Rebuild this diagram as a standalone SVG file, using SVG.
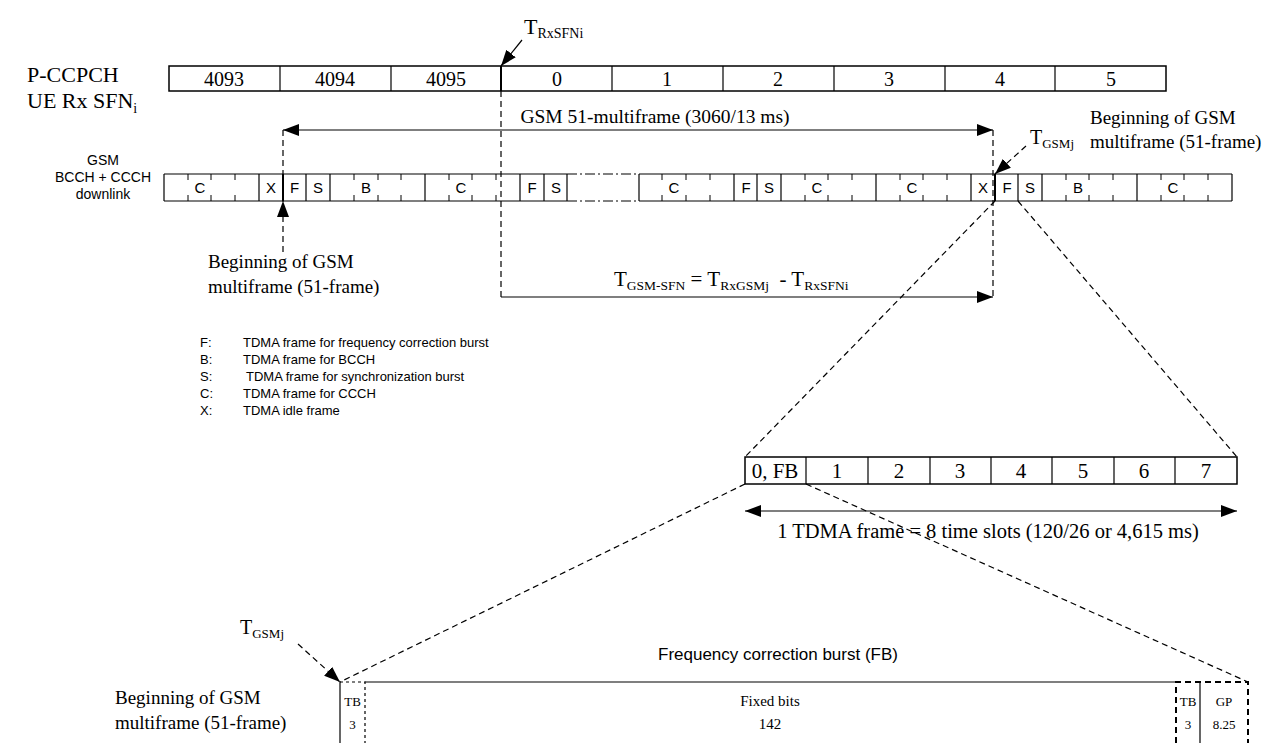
<svg xmlns="http://www.w3.org/2000/svg" width="1286" height="743" viewBox="0 0 1286 743">
<style>
.ln{stroke:#000;stroke-width:1.2;fill:none}
.bx{stroke:#000;stroke-width:1.5;fill:#fff}
.dl{stroke:#000;stroke-width:1.2;fill:none;stroke-dasharray:6 4}
.dd{stroke:#000;stroke-width:1.2;fill:none;stroke-dasharray:10 3 2 3}
.tk{stroke:#000;stroke-width:1}
.tm{font-family:"Liberation Serif",serif;fill:#000}
.ar{font-family:"Liberation Sans",sans-serif;fill:#000}
</style>
<defs>
<marker id="ah" viewBox="0 0 16 12" refX="16" refY="6" markerWidth="16" markerHeight="12" markerUnits="userSpaceOnUse" orient="auto-start-reverse">
<path d="M0,0 L16,6 L0,12 Z" fill="#000"/>
</marker>
</defs>

<g id="pccpch">
<text class="tm" x="27" y="82" font-size="22">P-CCPCH</text>
<text class="tm" x="27" y="108" font-size="22">UE Rx SFN<tspan font-size="14" dy="5">i</tspan></text>
<rect class="bx" x="169" y="66" width="997" height="25"/>
<g class="ln">
<line x1="280" y1="66" x2="280" y2="91"/><line x1="391" y1="66" x2="391" y2="91"/>
<line x1="501" y1="66" x2="501" y2="91" stroke-width="2"/><line x1="612" y1="66" x2="612" y2="91"/>
<line x1="723" y1="66" x2="723" y2="91"/><line x1="834" y1="66" x2="834" y2="91"/>
<line x1="945" y1="66" x2="945" y2="91"/><line x1="1055" y1="66" x2="1055" y2="91"/>
</g>
<g class="tm" font-size="20" text-anchor="middle">
<text x="224" y="86">4093</text><text x="335" y="86">4094</text><text x="446" y="86">4095</text>
<text x="557" y="86">0</text><text x="667" y="86">1</text><text x="778" y="86">2</text>
<text x="889" y="86">3</text><text x="1000" y="86">4</text><text x="1111" y="86">5</text>
</g>
</g>

<g id="t-rxsfni">
<text class="tm" x="524" y="34" font-size="22">T<tspan font-size="14" dy="4">RxSFNi</tspan></text>
</g>

<g id="gsm-row">
<g class="ar" font-size="14" text-anchor="middle">
<text x="103" y="165">GSM</text><text x="103" y="182">BCCH + CCCH</text><text x="103" y="199">downlink</text>
</g>
<rect x="164" y="174" width="1068" height="27" fill="#fff"/>
<g class="ln" stroke-width="1.5">
<line x1="164" y1="174" x2="567" y2="174"/><line x1="164" y1="201" x2="567" y2="201"/>
<line x1="639" y1="174" x2="1232" y2="174"/><line x1="639" y1="201" x2="1232" y2="201"/>
<line x1="164" y1="174" x2="164" y2="201"/><line x1="1232" y1="174" x2="1232" y2="201"/>
</g>
<line class="dd" x1="567" y1="174" x2="639" y2="174"/><line class="dd" x1="567" y1="201" x2="639" y2="201"/>
<g class="ln">
<line x1="259" y1="174" x2="259" y2="201"/><line x1="306" y1="174" x2="306" y2="201"/>
<line x1="330" y1="174" x2="330" y2="201"/><line x1="425" y1="174" x2="425" y2="201"/>
<line x1="520" y1="174" x2="520" y2="201"/><line x1="544" y1="174" x2="544" y2="201"/>
<line x1="567" y1="174" x2="567" y2="201"/><line x1="639" y1="174" x2="639" y2="201"/>
<line x1="734" y1="174" x2="734" y2="201"/><line x1="757" y1="174" x2="757" y2="201"/>
<line x1="781" y1="174" x2="781" y2="201"/><line x1="876" y1="174" x2="876" y2="201"/>
<line x1="971" y1="174" x2="971" y2="201"/><line x1="1018" y1="174" x2="1018" y2="201"/>
<line x1="1042" y1="174" x2="1042" y2="201"/><line x1="1137" y1="174" x2="1137" y2="201"/>
<line x1="283" y1="174" x2="283" y2="201" stroke-width="2"/><line x1="995" y1="174" x2="995" y2="201" stroke-width="2"/>
</g>
<path class="tk" d="M188,174v6M188,201v-6M211,174v6M211,201v-6M235,174v6M235,201v-6
M354,174v6M354,201v-6M378,174v6M378,201v-6M401,174v6M401,201v-6
M449,174v6M449,201v-6M472,174v6M472,201v-6M496,174v6M496,201v-6
M662,174v6M662,201v-6M686,174v6M686,201v-6M710,174v6M710,201v-6
M805,174v6M805,201v-6M828,174v6M828,201v-6M852,174v6M852,201v-6
M900,174v6M900,201v-6M923,174v6M923,201v-6M947,174v6M947,201v-6
M1066,174v6M1066,201v-6M1089,174v6M1089,201v-6M1113,174v6M1113,201v-6
M1161,174v6M1161,201v-6M1184,174v6M1184,201v-6M1208,174v6M1208,201v-6"/>
<g class="ar" font-size="15" text-anchor="middle">
<text x="200" y="193">C</text><text x="271" y="193">X</text><text x="294.5" y="193">F</text><text x="318" y="193">S</text>
<text x="366" y="193">B</text><text x="461" y="193">C</text><text x="532" y="193">F</text><text x="556" y="193">S</text>
<text x="674" y="193">C</text><text x="746" y="193">F</text><text x="769" y="193">S</text><text x="817" y="193">C</text>
<text x="912" y="193">C</text><text x="983" y="193">X</text><text x="1007" y="193">F</text><text x="1030" y="193">S</text>
<text x="1078" y="193">B</text><text x="1173" y="193">C</text>
</g>
</g>

<g id="multiframe-label">
<text class="tm" x="655" y="123" font-size="19.5" text-anchor="middle">GSM 51-multiframe (3060/13 ms)</text>
</g>

<g id="begin-top">
<text class="tm" x="1090" y="124" font-size="19">Beginning of GSM</text>
<text class="tm" x="1090" y="148" font-size="19">multiframe (51-frame)</text>
</g>

<g id="t-gsmj-top">
<text class="tm" x="1030" y="144" font-size="20">T<tspan font-size="13" dy="4">GSMj</tspan></text>
</g>

<g id="begin-mid">
<text class="tm" x="208" y="268" font-size="19">Beginning of GSM</text>
<text class="tm" x="208" y="293" font-size="19">multiframe (51-frame)</text>
</g>

<g id="formula">
<text class="tm" x="614" y="286" font-size="21" xml:space="preserve">T<tspan font-size="13.5" dy="4">GSM-SFN</tspan><tspan dy="-4"> = T</tspan><tspan font-size="13.5" dy="4">RxGSMj</tspan><tspan dy="-4">  - T</tspan><tspan font-size="13.5" dy="4">RxSFNi</tspan></text>
</g>

<g id="legend" class="ar" font-size="13">
<text x="200" y="347">F:</text><text x="243" y="347">TDMA frame for frequency correction burst</text>
<text x="200" y="364">B:</text><text x="243" y="364">TDMA frame for BCCH</text>
<text x="200" y="381">S:</text><text x="246" y="381">TDMA frame for synchronization burst</text>
<text x="200" y="398">C:</text><text x="243" y="398">TDMA frame for CCCH</text>
<text x="200" y="415">X:</text><text x="243" y="415">TDMA idle frame</text>
</g>

<g id="slots">
<rect class="bx" x="745" y="457" width="492" height="27"/>
<g class="ln">
<line x1="806" y1="457" x2="806" y2="484"/><line x1="868" y1="457" x2="868" y2="484"/>
<line x1="930" y1="457" x2="930" y2="484"/><line x1="991" y1="457" x2="991" y2="484"/>
<line x1="1052" y1="457" x2="1052" y2="484"/><line x1="1114" y1="457" x2="1114" y2="484"/>
<line x1="1175" y1="457" x2="1175" y2="484"/>
</g>
<g class="tm" font-size="21" text-anchor="middle">
<text x="775" y="478">0, FB</text><text x="837" y="478">1</text><text x="899" y="478">2</text>
<text x="960" y="478">3</text><text x="1021" y="478">4</text><text x="1083" y="478">5</text>
<text x="1144" y="478">6</text><text x="1206" y="478">7</text>
</g>
<text class="tm" x="988" y="538" font-size="20.5" text-anchor="middle">1 TDMA frame = 8 time slots (120/26 or 4,615 ms)</text>
</g>

<g id="burst">
<text class="ar" x="658" y="660" font-size="17">Frequency correction burst (FB)</text>
<text class="tm" x="240" y="634" font-size="20">T<tspan font-size="13" dy="4">GSMj</tspan></text>
<text class="tm" x="115" y="704" font-size="19">Beginning of GSM</text>
<text class="tm" x="115" y="729" font-size="19">multiframe (51-frame)</text>
<line class="ln" x1="365" y1="682" x2="1176" y2="682" stroke-width="1.5"/>
<line class="ln" x1="340" y1="682" x2="340" y2="743" stroke-width="1.8"/>
<path d="M340,682H365V743" fill="none" stroke="#000" stroke-width="1.2" stroke-dasharray="3 3"/>
<path d="M1176,743V682H1248V743" fill="none" stroke="#000" stroke-width="2" stroke-dasharray="6 4"/>
<line class="ln" x1="1200" y1="682" x2="1200" y2="743"/>
<g class="tm" text-anchor="middle">
<text x="352.5" y="706" font-size="13">TB</text><text x="352.5" y="729" font-size="13">3</text>
<text x="770" y="706" font-size="15">Fixed bits</text><text x="770" y="729" font-size="15">142</text>
<text x="1188" y="706" font-size="13">TB</text><text x="1188" y="729" font-size="13">3</text>
<text x="1224" y="706" font-size="13">GP</text><text x="1224" y="729" font-size="13">8.25</text>
</g>
</g>

<g id="connectors">
<line class="ln" x1="522" y1="40" x2="501" y2="66" marker-end="url(#ah)"/>
<line class="dl" x1="501" y1="91" x2="501" y2="297"/>
<line class="ln" x1="501" y1="297" x2="993" y2="297" marker-end="url(#ah)"/>
<line class="ln" x1="283" y1="130" x2="993" y2="130" marker-start="url(#ah)" marker-end="url(#ah)"/>
<line class="dl" x1="283" y1="130" x2="283" y2="174"/>
<line class="dl" x1="993" y1="130" x2="993" y2="297"/>
<line class="dl" x1="283" y1="252" x2="283" y2="201" marker-end="url(#ah)"/>
<line class="dl" x1="1026" y1="146" x2="995" y2="174" marker-end="url(#ah)"/>
<line class="dl" x1="995" y1="201" x2="745" y2="457"/>
<line class="dl" x1="1018" y1="201" x2="1237" y2="457"/>
<line class="ln" x1="745" y1="511" x2="1237" y2="511" marker-start="url(#ah)" marker-end="url(#ah)"/>
<line class="dl" x1="745" y1="484" x2="340" y2="682"/>
<line class="dl" x1="806" y1="484" x2="1248" y2="682"/>
<line class="dl" x1="298" y1="644" x2="340" y2="682" marker-end="url(#ah)"/>
</g>
</svg>
